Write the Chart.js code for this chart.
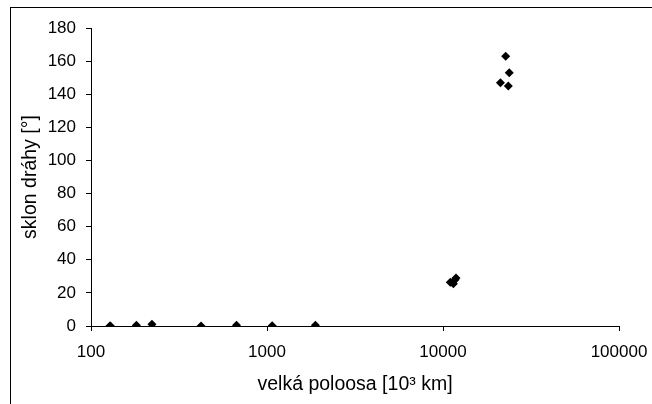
<!DOCTYPE html>
<html>
<head>
<meta charset="utf-8">
<script src="https://cdn.jsdelivr.net/npm/chart.js@4"></script>
<style>
  html, body { margin: 0; padding: 0; background: #fff; }
  #wrap { width: 652px; height: 404px; position: relative; }
</style>
</head>
<body>
<div id="wrap"><canvas id="moonChart"></canvas></div>
<script>
// semi-major axis [10^3 km] and inclination [deg]
const semiMajor = [128, 129, 181, 222, 422, 671, 1070, 1883,
  11000, 11450, 11700, 11850,
  21200, 22700, 23500, 23800];
const inclination = [0, 0, 0.4, 1.0, 0, 0.5, 0.2, 0.5,
  26.5, 25.5, 28, 29,
  147, 163, 145, 153];

const xTicks = [100, 1000, 10000, 100000];
const yMin = 0;
const yMax = 180;
const yStep = 20;

const points = semiMajor.map((a, i) => ({ x: a, y: inclination[i] }));

const tickFont = { family: "'Liberation Sans', Arial, sans-serif", size: 17 };
const titleFont = { family: "'Liberation Sans', Arial, sans-serif", size: 19.5 };

// outer frame of the chart area, plus the x axis line at y = 0
const framePlugin = {
  id: "frame",
  beforeDraw(chart) {
    const ctx = chart.ctx;
    ctx.save();
    ctx.fillStyle = "#fff";
    ctx.fillRect(0, 0, chart.width, chart.height);
    ctx.strokeStyle = "#000";
    ctx.lineWidth = 1;
    ctx.strokeRect(10.5, 7.5, 800, 600);
    ctx.restore();
  },
  afterDatasetsDraw(chart) {
    const { ctx, chartArea } = chart;
    const y = Math.round(chart.scales.y.getPixelForValue(0)) + 0.5;
    ctx.save();
    ctx.strokeStyle = "#000";
    ctx.lineWidth = 1;
    ctx.beginPath();
    ctx.moveTo(chartArea.left, y);
    ctx.lineTo(chartArea.right, y);
    ctx.stroke();
    ctx.restore();
  },
};

new Chart(document.getElementById("moonChart"), {
  type: "scatter",
  data: {
    datasets: [
      {
        data: points,
        pointStyle: "rectRot",
        pointRadius: 4.5,
        pointHoverRadius: 4.5,
        backgroundColor: "#000",
        borderColor: "#000",
        borderWidth: 0,
      },
    ],
  },
  options: {
    responsive: true,
    maintainAspectRatio: false,
    animation: false,
    layout: { padding: { left: 0, top: 28, right: 33, bottom: 0 } },
    plugins: {
      legend: { display: false },
      tooltip: { enabled: false },
    },
    scales: {
      x: {
        type: "logarithmic",
        min: 100,
        max: 100000,
        afterBuildTicks(scale) {
          scale.ticks = xTicks.map((v) => ({ value: v }));
        },
        afterFit(scale) {
          scale.height = 404 - 326;
          scale.paddingLeft = 0;
          scale.paddingRight = 0;
        },
        border: { display: true, color: "#000", width: 1 },
        grid: {
          drawOnChartArea: false,
          drawTicks: true,
          tickLength: 5,
          color: "#000",
        },
        ticks: {
          color: "#000",
          font: tickFont,
          padding: 11,
          maxRotation: 0,
          autoSkip: false,
          callback: (v) => String(v),
        },
        title: {
          display: true,
          text: "velká poloosa [10³ km]",
          color: "#000",
          font: titleFont,
          padding: { top: 0, bottom: 8 },
        },
      },
      y: {
        min: yMin,
        max: yMax,
        afterFit(scale) {
          scale.width = 91;
          scale.paddingTop = 0;
          scale.paddingBottom = 0;
        },
        border: { display: true, color: "#000", width: 1 },
        grid: {
          drawOnChartArea: false,
          drawTicks: true,
          tickLength: 5,
          color: "#000",
        },
        ticks: {
          stepSize: yStep,
          color: "#000",
          font: tickFont,
          padding: 10,
        },
        title: {
          display: true,
          text: "sklon dráhy [°]",
          color: "#000",
          font: titleFont,
          padding: { top: 19, bottom: 0 },
        },
      },
    },
  },
  plugins: [framePlugin],
});
</script>
</body>
</html>
